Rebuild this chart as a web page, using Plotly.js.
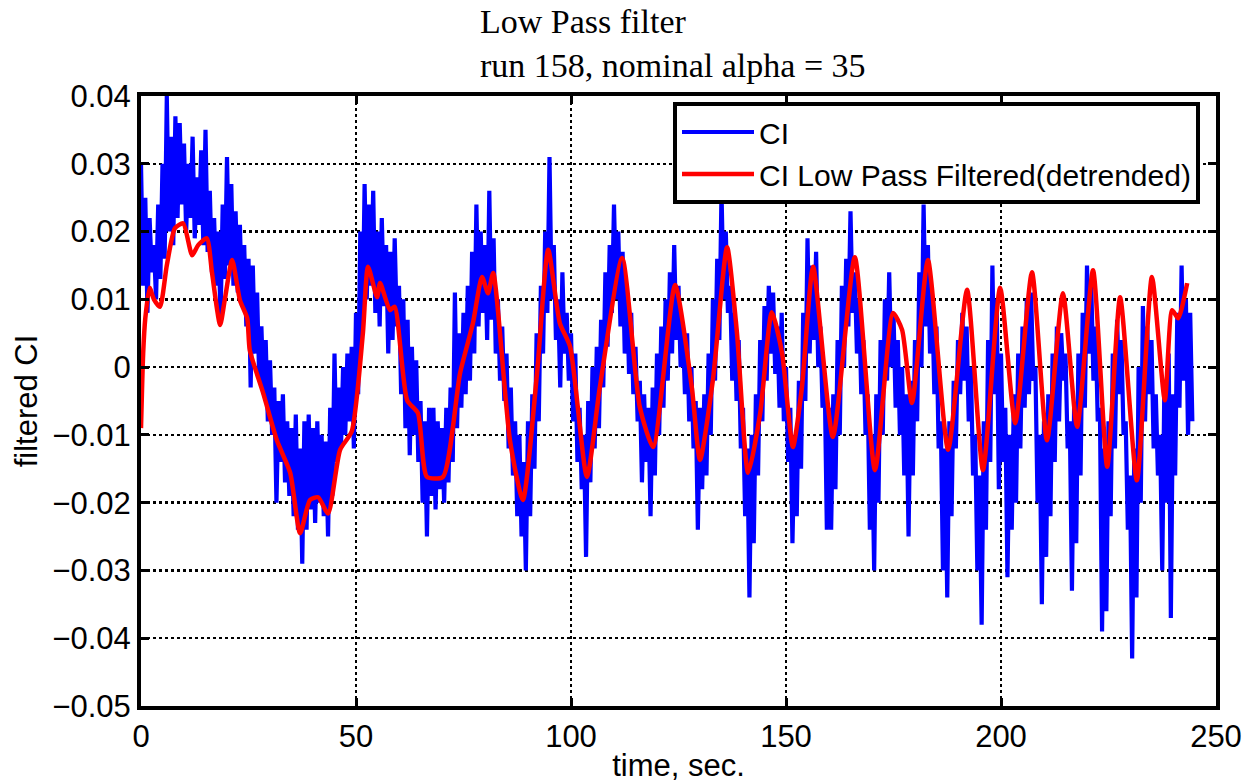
<!DOCTYPE html>
<html>
<head>
<meta charset="utf-8">
<script src="https://cdn.plot.ly/plotly-3.0.1.min.js"></script>
<style>html,body{margin:0;padding:0;background:#fff;}#chart{width:1252px;height:784px;}</style>
</head>
<body>
<div id="chart"></div>
<script>
// Raw CI signal, sampled every 0.5 s from t = 0, values in thousandths
const ciDt = 0.5;
const ciMilli = [
30,12, 25,8, 22,14, 18,10, 24,13, 30,16, 40,20, 34,18, 37,22, 36,24,
33,20, 30,22, 34,19, 28,21, 32,18, 35,17, 26,14, 22,12, 20,7, 24,13,
31,15, 27,12, 23,11, 21,9, 18,6, 16,-3, 15,2, 11,-2, 6,-4, 4,-8,
1,-10, -3,-20, -5,-14, -4,-17, -8,-19, -9,-22, -7,-24, -12,-29, -8,-24, -7,-21,
-9,-23, -8,-20, -10,-22, -11,-25, -6,-19, 2,-14, -3,-12, 0,-10, 2,-8, 3,-12,
8,-4, 20,5, 27,10, 24,12, 26,8, 20,6, 22,9, 18,2, 17,4, 19,6,
12,-4, 10,-9, 7,-13, 3,-10, 1,-14, -5,-20, -8,-25, -6,-19, -6,-21, -8,-18,
-9,-20, -6,-17, -3,-14, 11,-9, 5,-6, 8,-4, 12,-2, 17,2, 24,6, 20,8,
18,4, 26,7, 19,2, 10,-2, 6,-5, 2,-12, -3,-16, -8,-22, -10,-25, -14,-30,
-8,-22, -4,-15, 5,-8, 12,2, 20,8, 31,10, 18,4, 10,-3, 14,2, 8,-2,
5,-8, 2,-14, -6,-18, -10,-28, -5,-17, 0,-12, 3,-9, 7,-3, 14,3, 18,8,
24,10, 20,6, 17,2, 12,-1, 8,-4, 3,-8, -2,-17, -4,-14, -6,-22, -3,-16,
2,-10, 6,-6, 10,-2, 14,2, 18,4, 12,0, 6,-4, 5,-8, 0,-12, -5,-24,
-6,-18, -4,-16, 2,-10, 10,-2, 16,4, 26,10, 20,8, 12,-2, 8,-5, 4,-12,
-6,-22, -12,-34, -10,-26, -4,-16, 4,-8, 9,-2, 12,2, 11,-1, 6,-6, 8,-8,
0,-14, -6,-26, -10,-22, -2,-15, 8,-5, 19,2, 15,4, 17,0, 6,-6, -2,-24,
-6,-24, -4,-18, 4,-10, 12,0, 16,6, 23,8, 14,2, 10,-4, 4,-10, -4,-24,
-10,-30, -4,-20, 4,-10, 10,-2, 14,0, 8,-6, 4,-10, 0,-16, -4,-25, -2,-16,
4,-8, 14,0, 24,6, 18,2, 10,-4, 6,-12, -8,-30, -12,-34, -8,-22, -2,-12,
4,-4, 8,-2, 6,-8, 0,-16, -10,-30, -16,-38, -8,-24, 4,-14, 15,-4, 10,-18,
2,-14, -6,-31, -10,-24, -4,-20, 2,-12, 6,-6, 10,-4, 11,-2, 0,-20, -10,-35,
-8,-28, -4,-22, 2,-14, 6,-8, 5,-2, 2,-12, -8,-33, -6,-26, 2,-16, 8,-6,
15,2, 12,-2, 6,-8, -6,-39, -12,-36, -8,-22, 2,-12, 7,-4, 4,-10, -8,-24,
-16,-43, -12,-34, 0,-20, 9,-8, 6,-4, 4,-12, -4,-16, -10,-30, -2,-20, 2,-37,
-4,-16, 8,-6, 15,-2, 10,-10, 8,-8
];

// Low pass filtered (detrended) CI, read at turning points
const lpTime = [0,0.5,1,2,3,4.4,6,7.9,9.8,11.9,13.3,15.3,16.5,18.4,19.5,21.2,23,24.7,25.3,28.4,
31.6,34.7,37,39.3,41.2,43.5,46.3,49,51.6,52.8,54.9,55.6,57.9,59,61.9,64.4,66.5,70.2,74.2,77.2,
79.3,80.7,81.9,85.8,88.8,92.1,94.7,97.4,99.8,103.7,106.7,111.9,116,119.1,124.2,128.1,130,133,136.3,138.6,
141.2,144,146.7,149.1,151.6,153.7,156.3,160.9,166,170.7,174.9,177,179.3,183,187.7,192.1,195.8,199.8,203.3,207.2,
210.7,214.4,217.7,221.4,224.7,227.7,231.6,235.1,238.1,239.8,241.2,243.3];
const lpMilli = [-9,2,7.2,11.7,10,8.9,15,20.5,21.2,16.5,18,19,14,6.2,10,15.8,9.9,7.2,2.5,-3.8,
-10.8,-15.6,-24.5,-19.6,-19.2,-21.6,-12.2,-9.5,5,14.8,10.3,12.4,8.4,8.9,-4.9,-6.8,-16.2,-16.2,-0.9,6.5,
13.3,10.9,13.9,-10.8,-19.6,-0.9,17.3,6.5,3,-16.2,-3,16.1,-5.9,-11.8,12.1,-3,-13.7,-1.9,17.7,5,
-15.6,-6.8,8.1,2,-11.8,-3,14.8,-10.3,16.2,-15.2,8,5.5,-5.3,15.8,-12.2,11.4,-15.2,11.7,-8.3,14,
-10.8,10.9,-8.8,14.3,-14.7,10.3,-16.7,13.3,-4.9,8.4,7.2,12.4];

const xTickVals = [0,50,100,150,200,250];
const xTickText = ['0','50','100','150','200','250'];
const yTickVals = [0.04,0.03,0.02,0.01,0,-0.01,-0.02,-0.03,-0.04,-0.05];
const yTickText = ['0.04','0.03','0.02','0.01','0','\u22120.01','\u22120.02','\u22120.03','\u22120.04','\u22120.05'];

const ciTime = ciMilli.map((_, i) => i * ciDt);
const ciVal = ciMilli.map(v => v / 1000);
const lpVal = lpMilli.map(v => v / 1000);

const sans = 'Liberation Sans, Arial, sans-serif';
const traces = [
  {x: ciTime, y: ciVal, type: 'scatter', mode: 'lines', name: 'CI',
   line: {color: '#0000ff', width: 4.2}},
  {x: lpTime, y: lpVal, type: 'scatter', mode: 'lines', name: 'CI Low Pass Filtered(detrended)',
   line: {color: '#ff0000', width: 4.5, shape: 'spline', smoothing: 0.6}}
];

const axisCommon = {
  showline: true, mirror: 'allticks', linecolor: '#000', linewidth: 4,
  ticks: 'inside', ticklen: 8, tickwidth: 3, tickcolor: '#000',
  showgrid: true, gridcolor: '#000', gridwidth: 2.5, griddash: 'dot',
  zeroline: false, tickfont: {family: sans, size: 31, color: '#000'}
};

const layout = {
  width: 1252, height: 784,
  margin: {l: 141, r: 36, t: 96, b: 78},
  paper_bgcolor: '#fff', plot_bgcolor: '#fff',
  title: {text: 'Low Pass filter<br>run 158, nominal alpha = 35',
          xref: 'container', yref: 'container', x: 480/1252, xanchor: 'left',
          y: 0.958, yanchor: 'top',
          font: {family: 'Liberation Serif, Times New Roman, serif', size: 34, color: '#000'}},
  xaxis: Object.assign({}, axisCommon, {
    range: [0, 250], tickmode: 'array', tickvals: xTickVals, ticktext: xTickText,
    title: {text: 'time, sec.', font: {family: sans, size: 31, color: '#000'}, standoff: 2}
  }),
  yaxis: Object.assign({}, axisCommon, {
    range: [-0.05, 0.04], tickmode: 'array', tickvals: yTickVals, ticktext: yTickText,
    title: {text: 'filtered CI', font: {family: sans, size: 31, color: '#000'}, standoff: 6}
  }),
  showlegend: true,
  legend: {x: (1200-141)/1075, xanchor: 'right', y: 1 - 6/610, yanchor: 'top',
           bgcolor: '#fff', bordercolor: '#000', borderwidth: 4,
           font: {family: sans, size: 30, color: '#000'}, itemwidth: 72, tracegroupgap: 0}
};

Plotly.newPlot('chart', traces, layout, {displayModeBar: false, staticPlot: true});
</script>
</body>
</html>
